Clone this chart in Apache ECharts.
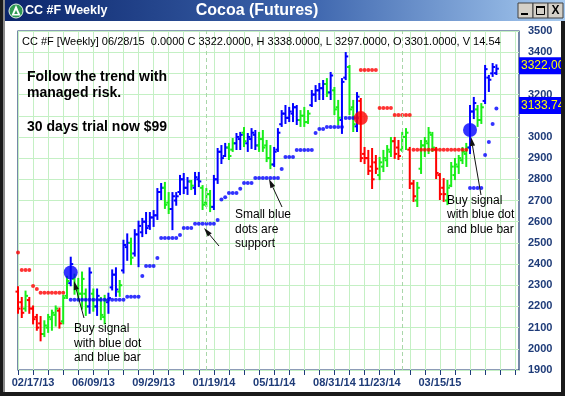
<!DOCTYPE html>
<html>
<head>
<meta charset="utf-8">
<title>Cocoa (Futures)</title>
<script src="https://cdn.jsdelivr.net/npm/echarts@6/dist/echarts.min.js"></script>
<style>
html,body{margin:0;padding:0;background:#ffffff;overflow:hidden;}
#chart{width:565px;height:396px;}
</style>
</head>
<body>
<div id="chart"></div>
<script>
// ---------------- data ----------------
const firstWeek = '2013-01-20';
const weekSlots = 134;
const tickLabels = ['02/17/13','06/09/13','09/29/13','01/19/14','05/11/14','08/31/14','11/23/14','03/15/15'];
const yearStarts = ['01/05/14','01/04/15'];
const yTicks = {min:1900, max:3500, step:100};

// r = sell trend (red), g = neutral (green), b = buy trend (blue)
const barColors = 'rrgrrrrggg' + 'grggbggggb' + 'gbggbbbgbb' + 'gbbbbbbbbg' + 'gbbbbbgbbg' +
                  'ggbbbbggbb' + 'gbbbggggbb' + 'bbbbbgggbb' + 'bbgbggbbgg' + 'brrrrrgggg' +
                  'rrggrrgggg' + 'grrrgggggg' + 'bbggbbbb';
const opens = [
 2270,2220,2190,2230,2190,2150,2120,2070,2100,2140,
 2160,2180,2130,2250,2310,2330,2280,2260,2260,2200,
 2260,2200,2230,2150,2220,2290,2350,2270,2370,2480,
 2500,2450,2540,2550,2600,2580,2620,2630,2740,2760,
 2690,2660,2700,2740,2800,2760,2790,2760,2800,2760,
 2690,2730,2670,2800,2930,2910,2950,2940,2970,2990,
 3020,2970,2990,3010,2960,2990,2960,2900,2870,2940,
 3060,3110,3090,3110,3140,3080,3100,3070,3150,3200,
 3220,3230,3250,3210,3220,3140,3080,3280,3330,3140,
 3050,3170,2920,2900,2860,2880,2820,2860,2890,2930,
 2980,2950,2940,3000,2940,2780,2700,2850,2960,2970,
 3010,2940,2820,2760,2700,2770,2820,2860,2890,2920,
 2950,3120,3130,3080,3170,3280,3300,3301];
const highs = [
 2290,2240,2270,2240,2200,2160,2150,2130,2160,2180,
 2200,2190,2250,2340,2430,2350,2330,2360,2280,2380,
 2280,2280,2240,2250,2260,2370,2380,2320,2510,2540,
 2520,2560,2600,2613,2641,2641,2650,2754,2778,2783,
 2735,2735,2735,2816,2825,2806,2792,2830,2830,2768,
 2754,2745,2816,2943,2957,2967,2967,2990,3014,3019,
 3042,3014,3037,3028,3019,3028,2981,2957,2948,3037,
 3122,3146,3137,3155,3146,3122,3137,3122,3217,3240,
 3250,3264,3273,3302,3231,3170,3273,3396,3335,3170,
 3207,3179,2948,2934,2943,2910,2901,2934,2957,2995,
 2995,2981,3019,3037,2948,2792,2783,2981,2995,3042,
 3019,2948,2825,2801,2792,2877,2896,2910,2948,2967,
 3146,3184,3146,3155,3335,3288,3344,3338];
const lows = [
 2170,2150,2180,2170,2120,2090,2040,2060,2080,2090,
 2110,2100,2120,2240,2300,2260,2230,2190,2160,2170,
 2180,2160,2140,2120,2170,2280,2250,2250,2360,2420,
 2400,2440,2390,2532,2546,2566,2580,2613,2707,2665,
 2641,2565,2680,2730,2735,2731,2754,2731,2768,2660,
 2674,2650,2660,2783,2877,2910,2896,2934,2943,2943,
 2957,2934,2948,2943,2934,2934,2886,2853,2863,2934,
 3052,3066,3075,3075,3061,3052,3052,3066,3146,3170,
 3179,3179,3193,3179,3108,3061,3019,3273,3108,3028,
 3028,2886,2877,2825,2759,2830,2801,2839,2863,2910,
 2901,2896,2934,2943,2759,2698,2674,2830,2910,2924,
 2934,2806,2707,2698,2683,2768,2801,2830,2877,2863,
 2924,3089,3052,3066,3160,3217,3288,3297];
const closes = [
 2190,2170,2250,2190,2140,2100,2070,2110,2150,2170,
 2190,2120,2240,2320,2400,2290,2260,2330,2200,2360,
 2200,2250,2160,2230,2240,2350,2280,2300,2490,2500,
 2430,2540,2580,2600,2570,2620,2630,2740,2760,2680,
 2660,2720,2720,2800,2760,2790,2770,2810,2790,2680,
 2730,2670,2800,2930,2900,2950,2910,2970,3000,3010,
 2980,3000,3020,2960,2990,2950,2900,2870,2930,3020,
 3110,3090,3120,3140,3080,3100,3070,3110,3200,3220,
 3230,3250,3210,3290,3130,3090,3260,3380,3130,3060,
 3190,2900,2900,2840,2800,2850,2880,2900,2940,2980,
 2920,2910,3000,3020,2780,2720,2760,2960,2980,3020,
 2950,2830,2730,2730,2760,2860,2870,2900,2930,2950,
 3120,3160,3080,3140,3320,3270,3330,3322];
const _ = null;
const supportDots = [
 _,_,_,_,_,_,_,_,_,_,
 _,_,_,_,2231,2231,2231,2231,2231,2231,
 2231,2231,2231,2231,2231,2231,2231,2231,2231,2246,
 2246,2246,2246,2344,2391,2391,2391,2429,2523,2523,
 2523,2523,2523,2537,2570,2570,2570,2590,2590,2590,
 2590,2590,2590,2608,2705,2715,2735,2735,2735,2755,
 2783,2783,2783,2806,2806,2806,2806,2806,2806,2806,
 2849,2905,2905,2905,2938,2938,2938,2938,2938,3019,
 3037,3037,3047,3047,3047,3047,3047,3089,3089,3089,
 3089,_,_,_,_,_,_,_,_,_,
 _,_,_,_,_,_,_,_,_,_,
 _,_,_,_,_,_,_,_,_,_,
 2759,2759,2759,2759,2915,2976,3061,3133.74];
const resistanceDots = [
 2454,2372,2372,2372,2296,2282,2265,2265,2265,2265,
 2265,2265,2265,_,_,_,_,_,_,_,
 _,_,_,_,_,_,_,_,_,_,
 _,_,_,_,_,_,_,_,_,_,
 _,_,_,_,_,_,_,_,_,_,
 _,_,_,_,_,_,_,_,_,_,
 _,_,_,_,_,_,_,_,_,_,
 _,_,_,_,_,_,_,_,_,_,
 _,_,_,_,_,_,_,_,_,_,
 _,3316,3316,3316,3316,3316,3137,3137,3137,3137,
 3104,3104,3104,3104,3104,2940,2940,2940,2940,2940,
 2940,2940,2940,2940,2940,2940,2940,2940,2940,2940,
 _,_,_,_,_,_,_,_];
const buyDates = ['04/28/13','05/10/15'];
const buyValues = [2360, 3033];
const sellDates = ['10/19/14'];
const sellValues = [3089];
const lastClose = 3322.00;
const lastSupport = 3133.74;
const headerText = 'CC #F [Weekly] 06/28/15  0.0000 C 3322.0000, H 3338.0000, L 3297.0000, O 3301.0000, V 14.54';

// ---------------- build ----------------
function fmt(d){
  const m = String(d.getUTCMonth()+1).padStart(2,'0');
  const day = String(d.getUTCDate()).padStart(2,'0');
  const y = String(d.getUTCFullYear()).slice(2);
  return m + '/' + day + '/' + y;
}
const weekDates = [];
{
  const t0 = Date.parse(firstWeek + 'T00:00:00Z');
  for (let i = 0; i < weekSlots; i++) weekDates.push(fmt(new Date(t0 + i*7*86400000)));
}
const colorIdx = {r:0, g:1, b:2};
const palette = ['#FF0000', '#18EE18', '#0000FF'];
const ohlc = opens.map((o,i)=>[i, o, highs[i], lows[i], closes[i], colorIdx[barColors[i]]]);
const dash = v => (v === null ? '-' : v);
const tagValues = [lastClose, lastSupport];

const FONT = 'Arial, "Liberation Sans", Helvetica, sans-serif';
const navy = '#1E3B78';
const gridGreen = '#C4F0C4';

const chart = echarts.init(document.getElementById('chart'), null, {renderer:'canvas'});

function renderBar(params, api){
  const x = api.value(0);
  const o = api.coord([x, api.value(1)]);
  const h = api.coord([x, api.value(2)]);
  const l = api.coord([x, api.value(3)]);
  const c = api.coord([x, api.value(4)]);
  const col = palette[api.value(5)];
  const st = {stroke: col, lineWidth: 2};
  return {type:'group', children:[
    {type:'line', shape:{x1:h[0], y1:h[1]-1, x2:l[0], y2:l[1]+1}, style:st},
    {type:'line', shape:{x1:o[0]-2.5, y1:o[1], x2:o[0], y2:o[1]}, style:st},
    {type:'line', shape:{x1:c[0], y1:c[1], x2:c[0]+2.5, y2:c[1]}, style:st}
  ]};
}

const option = {
  animation: false,
  backgroundColor: '#ffffff',
  grid: {left:18, right:46, top:31, bottom:26, show:true, borderColor:'#1C3A70', borderWidth:1.2, backgroundColor:'transparent'},
  xAxis: {
    type:'category', data: weekDates, boundaryGap:false,
    axisLine:{show:false},
    axisTick:{show:true, interval:3, length:5, lineStyle:{color:navy, width:1}},
    axisLabel:{interval:(i,v)=>tickLabels.indexOf(v) >= 0, color:navy, fontWeight:'bold', fontSize:11, fontFamily:FONT, margin:7},
    splitLine:{show:true, interval:3, lineStyle:{color:gridGreen, width:1}}
  },
  yAxis: {
    type:'value', position:'right', min:yTicks.min, max:yTicks.max, interval:yTicks.step,
    axisLine:{show:false}, axisTick:{show:false},
    axisLabel:{color:navy, fontWeight:'bold', fontSize:11, fontFamily:FONT, margin:9,
      formatter: v => (tagValues.some(t => Math.abs(t - v) < 40) ? '' : String(v))},
    splitLine:{show:true, lineStyle:{color:gridGreen, width:1}}
  },
  series: [
    {type:'line', data:[], silent:true, z:1,
     markLine:{symbol:'none', silent:true, label:{show:false},
       lineStyle:{color:'#A9D6A9', type:[4,3], width:1},
       data: yearStarts.map(d=>({xAxis:d}))}},
    {type:'custom', renderItem: renderBar, data: ohlc, z:3, encode:{x:0, y:[1,2,3,4]}},
    {type:'scatter', data: supportDots.map(dash), symbol:'circle', symbolSize:4, itemStyle:{color:'#0000FF'}, z:4, silent:true},
    {type:'scatter', data: resistanceDots.map(dash), symbol:'circle', symbolSize:4, itemStyle:{color:'#FF0000'}, z:4, silent:true},
    {type:'scatter', data: buyDates.map((d,i)=>[d, buyValues[i]]), symbol:'circle', symbolSize:14, itemStyle:{color:'#0000FF'}, z:5, silent:true},
    {type:'scatter', data: sellDates.map((d,i)=>[d, sellValues[i]]), symbol:'circle', symbolSize:14, itemStyle:{color:'#FF0000'}, z:5, silent:true}
  ]
};
chart.setOption(option);

function arrow(x1,y1,x2,y2){
  const a = Math.atan2(y2-y1, x2-x1), L = 9, W = 2.6;
  const bx = x2 - L*Math.cos(a), by = y2 - L*Math.sin(a);
  const px = -Math.sin(a)*W, py = Math.cos(a)*W;
  return [
    {type:'line', shape:{x1:x1, y1:y1, x2:bx, y2:by}, style:{stroke:'#111', lineWidth:1}, z:20},
    {type:'polygon', shape:{points:[[x2,y2],[bx+px,by+py],[bx-px,by-py]]}, style:{fill:'#111'}, z:20}
  ];
}
function txt(s, x, y, size, weight, color, align){
  return {type:'text', x:x, y:y, z:20, style:{text:s, fill:color||'#000', fontSize:size, fontWeight:weight||'normal', fontFamily:FONT, align:align||'left', verticalAlign:'middle'}};
}
function tag(value, label){
  const y = chart.convertToPixel({yAxisIndex:0}, value) - 3;
  return [
    {type:'rect', z:30, shape:{x:519, y:y-8.5, width:46, height:17}, style:{fill:'#0000FF'}},
    {type:'text', z:31, x:521, y:y, style:{text:label, fill:'#FFFF00', fontSize:12, fontFamily:FONT, verticalAlign:'middle'}}
  ];
}

const titleGrad = new echarts.graphic.LinearGradient(0,0,1,0,[{offset:0,color:'#0A246A'},{offset:0.55,color:'#3E66AE'},{offset:1,color:'#A6CAF0'}]);
const elements = [].concat(
  [
    {type:'rect', z:40, shape:{x:0,y:0,width:565,height:21}, style:{fill:titleGrad}},
    {type:'rect', z:41, shape:{x:0,y:0,width:3,height:396}, style:{fill:'#1A1A1A'}},
    {type:'rect', z:41, shape:{x:3,y:0,width:2,height:396}, style:{fill:'#8A8A8A'}},
    {type:'rect', z:41, shape:{x:0,y:392,width:565,height:4}, style:{fill:'#1A1A1A'}},
    {type:'rect', z:41, shape:{x:561,y:21,width:4,height:375}, style:{fill:'#1A1A1A'}},
    {type:'circle', z:42, shape:{cx:16,cy:11,r:7}, style:{fill:'#2F9A52', stroke:'#E8F5E8', lineWidth:1}},
    {type:'polygon', z:43, shape:{points:[[16,5],[11.5,15.5],[20.5,15.5]]}, style:{fill:'#FFFFFF'}},
    {type:'polygon', z:44, shape:{points:[[16,10],[14.2,14],[17.8,14]]}, style:{fill:'#2F9A52'}},
    {type:'text', z:42, x:25, y:11, style:{text:'CC #F Weekly', fill:'#FFFFFF', fontSize:12.5, fontWeight:'bold', fontFamily:FONT, verticalAlign:'middle'}},
    {type:'text', z:42, x:257, y:10.5, style:{text:'Cocoa (Futures)', fill:'#FFFFFF', fontSize:16, fontWeight:'bold', fontFamily:FONT, align:'center', verticalAlign:'middle'}},
    {type:'rect', z:42, shape:{x:518,y:3,width:15,height:15}, style:{fill:'#D4D0C8', stroke:'#404040', lineWidth:1}},
    {type:'rect', z:42, shape:{x:533,y:3,width:15,height:15}, style:{fill:'#D4D0C8', stroke:'#404040', lineWidth:1}},
    {type:'rect', z:42, shape:{x:548,y:3,width:15,height:15}, style:{fill:'#D4D0C8', stroke:'#404040', lineWidth:1}},
    {type:'rect', z:43, shape:{x:521,y:13,width:7,height:2}, style:{fill:'#000'}},
    {type:'rect', z:43, shape:{x:536.5,y:6.5,width:8,height:8}, style:{fill:'none', stroke:'#000', lineWidth:1}},
    {type:'rect', z:43, shape:{x:536,y:6,width:9,height:2}, style:{fill:'#000'}},
    {type:'text', z:43, x:555.5, y:11, style:{text:'X', fill:'#000', fontSize:12, fontWeight:'bold', fontFamily:FONT, align:'center', verticalAlign:'middle'}},
    txt(headerText, 22, 42, 11),
    txt('Follow the trend with', 27, 77, 14, 'bold'),
    txt('managed risk.', 27, 93, 14, 'bold'),
    txt('30 days trial now $99', 27, 127, 14, 'bold'),
    txt('Buy signal', 74, 329, 12),
    txt('with blue dot', 74, 343.5, 12),
    txt('and blue bar', 74, 358, 12),
    txt('Small blue', 235, 215, 12),
    txt('dots are', 235, 229.5, 12),
    txt('support', 235, 244, 12),
    txt('Buy signal', 447, 200.5, 12),
    txt('with blue dot', 447, 215, 12),
    txt('and blue bar', 447, 229.5, 12)
  ],
  arrow(84, 318, 74, 281),
  arrow(282, 207, 269, 179),
  arrow(219, 246, 204, 228),
  arrow(481, 195, 471, 137),
  tag(lastClose, lastClose.toFixed(2)),
  tag(lastSupport, lastSupport.toFixed(2))
);
chart.setOption({graphic: {elements: elements}});
</script>
</body>
</html>
